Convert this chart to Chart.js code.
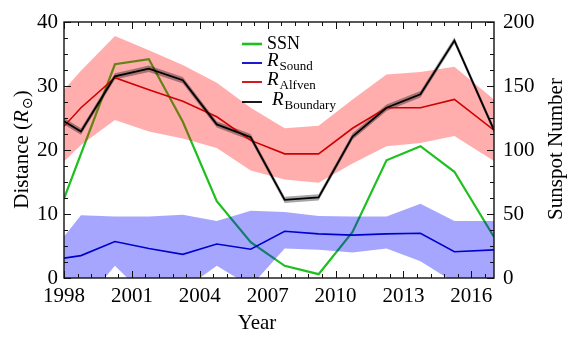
<!DOCTYPE html>
<html><head><meta charset="utf-8">
<script src="https://cdn.jsdelivr.net/npm/chart.js@4.4.1/dist/chart.umd.min.js"></script>
<style>html,body{margin:0;padding:0;background:#fff}#wrap{width:568px;height:337px;position:relative}</style>
</head><body><div id="wrap"><canvas id="c" width="568" height="337"></canvas></div>
<script>
// ---- data ----
const years      = [1998, 1998.75, 2000.25, 2001.75, 2003.25, 2004.75, 2006.25, 2007.75, 2009.25, 2010.75, 2012.25, 2013.75, 2015.25, 2017];
const ssn        = [62, null, 167, 171, 122, 60, 28, 9.5, 3, 36, 92, 103, 83, 32];
const rSound     = [3.1, 3.5, 5.7, 4.6, 3.7, 5.3, 4.5, 7.3, 6.9, 6.7, 6.9, 7.0, 4.1, 4.4];
const rSoundHi   = [6.5, 9.8, 9.6, 9.6, 9.9, 8.9, 10.5, 10.3, 9.7, 9.6, 9.6, 11.6, 8.9, 8.9];
const rSoundLo   = [-3, -4.4, 1.9, -3.3, -1.9, 1.9, -1.3, 4.6, 4.4, 4.0, 4.6, 2.6, -0.7, -1];
const rAlfven    = [23.7, 26.6, 31.3, 29.4, 27.6, 25.2, 21.5, 19.4, 19.4, 23.4, 26.6, 26.6, 27.9, 23.1];
const rAlfvenHi  = [29.4, 32.4, 37.8, 35.6, 33.3, 30.5, 26.6, 23.4, 23.8, 27.9, 31.8, 32.2, 33.0, 27.9];
const rAlfvenLo  = [18.2, 20.8, 24.7, 22.9, 21.8, 20.3, 16.8, 15.4, 14.9, 17.9, 20.6, 21.1, 22.2, 18.3];
const rBoundary  = [24.5, 22.9, 31.5, 32.7, 30.9, 24.0, 22.0, 12.2, 12.6, 22.1, 26.6, 28.7, 37.1, 23.1];
const rBoundaryHi= [25.0, 23.4, 32.0, 33.2, 31.4, 24.5, 22.5, 12.7, 13.1, 22.6, 27.1, 29.2, 37.6, 23.6];
const rBoundaryLo= [24.0, 22.4, 31.0, 32.2, 30.4, 23.5, 21.5, 11.7, 12.1, 21.6, 26.1, 28.2, 36.6, 22.6];
const xTicks  = [1998, 2001, 2004, 2007, 2010, 2013, 2016];
const yTicks  = [0, 10, 20, 30, 40];
const y2Ticks = [0, 50, 100, 150, 200];

const FONT = '"Liberation Serif", "DejaVu Serif", serif';
const pts = arr => years.map((x, i) => ({x, y: arr[i]})).filter(p => p.y !== null);

function band(arr, color, order) {
  return {data: pts(arr), borderWidth: 0, pointRadius: 0, backgroundColor: color, order, fill: false, yAxisID: 'y'};
}

const datasets = [
  {label: 'SSN', data: pts(ssn), yAxisID: 'y2', borderColor: '#1fbf1f', borderWidth: 2.2, pointRadius: 0, order: 20, fill: false},
  band(rSoundLo, 'rgba(0,0,255,0.35)', 19),
  Object.assign(band(rSoundHi, 'rgba(0,0,255,0.35)', 18), {fill: '-1'}),
  band(rAlfvenLo, 'rgba(255,0,0,0.32)', 17),
  Object.assign(band(rAlfvenHi, 'rgba(255,0,0,0.32)', 16), {fill: '-1'}),
  band(rBoundaryLo, 'rgba(0,0,0,0.35)', 15),
  Object.assign(band(rBoundaryHi, 'rgba(0,0,0,0.35)', 14), {fill: '-1'}),
  {label: 'R_Sound', data: pts(rSound), yAxisID: 'y', borderColor: '#0000cc', borderWidth: 1.6, pointRadius: 0, order: 3, fill: false},
  {label: 'R_Alfven', data: pts(rAlfven), yAxisID: 'y', borderColor: '#d00000', borderWidth: 1.6, pointRadius: 0, order: 2, fill: false},
  {label: 'R_Boundary', data: pts(rBoundary), yAxisID: 'y', borderColor: '#000000', borderWidth: 1.8, pointRadius: 0, order: 1, fill: false}
];

function setTicks(arr) { return s => { s.ticks = arr.map(v => ({value: v})); }; }

const decor = {
  id: 'decor',
  afterDraw(chart) {
    const ctx = chart.ctx, a = chart.chartArea;
    const sx = chart.scales.x, sy = chart.scales.y, sy2 = chart.scales.y2;
    ctx.save();
    ctx.strokeStyle = '#111';
    // ticks (inward)
    ctx.lineWidth = 1;
    const tick = (x1, y1, x2, y2) => { ctx.beginPath(); ctx.moveTo(x1, y1); ctx.lineTo(x2, y2); ctx.stroke(); };
    for (let k = 0; k <= 31; k++) {
      const v = 1998 + k * 0.6; if (v > 2017.001) break;
      const px = Math.round(sx.getPixelForValue(v)) + 0.5;
      const major = Math.abs((v - 1998) / 3 - Math.round((v - 1998) / 3)) < 1e-6;
      const L = major ? 7 : 4;
      tick(px, a.bottom, px, a.bottom - L); tick(px, a.top, px, a.top + L);
    }
    for (let v = 0; v <= 40.001; v += 2.5) {
      const py = Math.round(sy.getPixelForValue(v)) + 0.5;
      const L = (v % 10 === 0) ? 7 : 4;
      tick(a.left, py, a.left + L, py);
    }
    for (let v = 0; v <= 200.001; v += 12.5) {
      const py = Math.round(sy2.getPixelForValue(v)) + 0.5;
      const L = (v % 50 === 0) ? 7 : 4;
      tick(a.right, py, a.right - L, py);
    }
    // frame
    ctx.lineWidth = 1.4;
    ctx.strokeRect(a.left, a.top, a.right - a.left, a.bottom - a.top);

    ctx.fillStyle = '#000';
    ctx.textBaseline = 'alphabetic';
    // x title
    ctx.font = '21px ' + FONT;
    ctx.textAlign = 'center';
    ctx.fillText('Year', (a.left + a.right) / 2 - 22, 329);
    // right title
    ctx.save();
    ctx.translate(562, 149);
    ctx.rotate(-Math.PI / 2);
    ctx.textAlign = 'center';
    ctx.fillText('Sunspot Number', 0, 0);
    ctx.restore();
    // left title: Distance (R_⊙)
    ctx.save();
    ctx.translate(28, 150);
    ctx.rotate(-Math.PI / 2);
    ctx.textAlign = 'left';
    const parts = [
      {t: 'Distance (', f: '21px ' + FONT, dy: 0},
      {t: 'R', f: 'italic 21px ' + FONT, dy: 0},
      {t: '\u2299', f: '14px "DejaVu Sans", ' + FONT, dy: 4},
      {t: ')', f: '21px ' + FONT, dy: 0}
    ];
    let w = 0;
    parts.forEach(p => { ctx.font = p.f; p.w = ctx.measureText(p.t).width; w += p.w; });
    let x0 = -w / 2;
    parts.forEach(p => { ctx.font = p.f; ctx.fillText(p.t, x0, p.dy); x0 += p.w + (p.t === 'R' ? 1 : 0); });
    ctx.restore();

    // legend
    const rows = [
      {c: '#1fbf1f', lw: 2.6, y: 44, main: 'SSN', sub: null, tx: 267},
      {c: '#0000cc', lw: 1.8, y: 63, main: 'R', sub: 'Sound', tx: 267},
      {c: '#d00000', lw: 1.8, y: 82, main: 'R', sub: 'Alfven', tx: 267},
      {c: '#000000', lw: 1.8, y: 102, main: 'R', sub: 'Boundary', tx: 272}
    ];
    ctx.textAlign = 'left';
    rows.forEach(r => {
      ctx.strokeStyle = r.c; ctx.lineWidth = r.lw;
      tick(242, r.y, 262, r.y);
      if (!r.sub) {
        ctx.font = '18px ' + FONT;
        ctx.fillText(r.main, r.tx, r.y + 5);
      } else {
        ctx.font = 'italic 19px ' + FONT;
        ctx.fillText(r.main, r.tx, r.y + 3);
        const rw = ctx.measureText(r.main).width;
        ctx.font = '13px ' + FONT;
        ctx.fillText(r.sub, r.tx + rw + 1, r.y + 7);
      }
    });
    ctx.restore();
  }
};

const tickFont = {family: FONT, size: 21};
new Chart(document.getElementById('c'), {
  type: 'line',
  data: {datasets},
  options: {
    responsive: false, animation: false,
    elements: {line: {tension: 0}},
    layout: {padding: {top: 22, left: 0, right: 0, bottom: 0}},
    plugins: {legend: {display: false}, tooltip: {enabled: false}, filler: {propagate: false}},
    scales: {
      x: {type: 'linear', min: 1998, max: 2017, afterBuildTicks: setTicks(xTicks),
          grid: {display: false, drawTicks: false}, border: {display: false},
          ticks: {font: tickFont, color: '#000', padding: 6, maxRotation: 0, autoSkip: false, callback: v => String(v)},
          afterFit: s => { s.height = 59; }},
      y: {position: 'left', min: 0, max: 40, afterBuildTicks: setTicks(yTicks),
          grid: {display: false, drawTicks: false}, border: {display: false},
          ticks: {font: tickFont, color: '#000', padding: 6, callback: v => String(v)},
          afterFit: s => { s.width = 64; }},
      y2: {position: 'right', min: 0, max: 200, afterBuildTicks: setTicks(y2Ticks),
          grid: {display: false, drawTicks: false}, border: {display: false},
          ticks: {font: tickFont, color: '#000', padding: 9, callback: v => String(v)},
          afterFit: s => { s.width = 74; }}
    }
  },
  plugins: [decor]
});
</script></body></html>
